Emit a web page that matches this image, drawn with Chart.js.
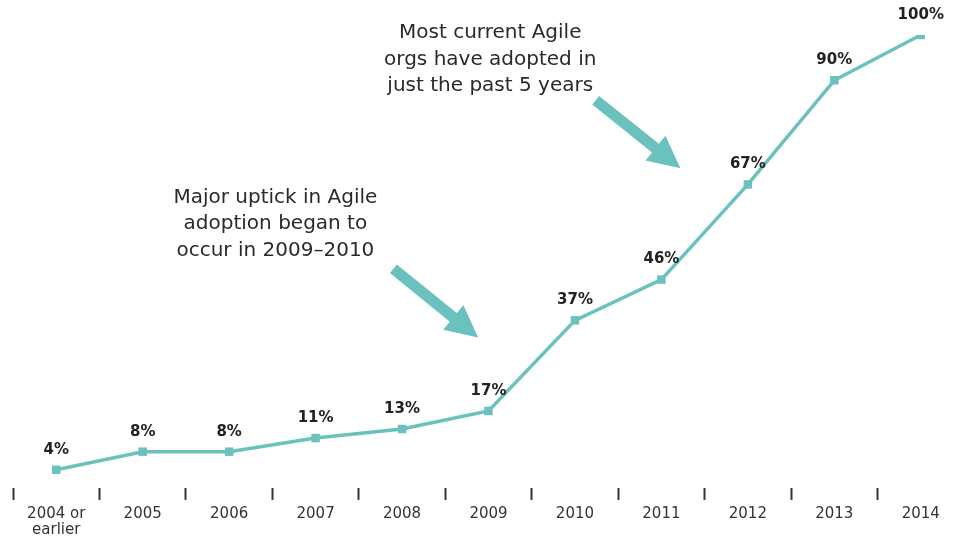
<!DOCTYPE html>
<html>
<head>
<meta charset="utf-8">
<script src="https://cdn.jsdelivr.net/npm/chart.js@4"></script>
<style>
  html, body { margin: 0; padding: 0; background: #fff; overflow: hidden; }
  #wrap { width: 970px; height: 544px; position: relative; }
</style>
</head>
<body>
<div id="wrap"><canvas id="chart"></canvas></div>
<script>
const years = [["2004 or", "earlier"], "2005", "2006", "2007", "2008", "2009", "2010", "2011", "2012", "2013", "2014"];
const adoption = [4, 8, 8, 11, 13, 17, 37, 46, 67, 90, 100];

const notes = [
  { lines: ["Major uptick in Agile", "adoption began to", "occur in 2009\u20132010"], at: [2.535, 64.1], from: [3.9, 48.4], to: [4.88, 33.2] },
  { lines: ["Most current Agile", "orgs have adopted in", "just the past 5 years"], at: [5.02, 100.4], from: [6.24, 85.6], to: [7.22, 70.6] },
];

const TEAL = "#6bc1be";
const FONT = "'DejaVu Sans', 'Open Sans', sans-serif";

const drawArrow = (ctx, x1, y1, x2, y2) => {
  const ang = Math.atan2(y2 - y1, x2 - x1);
  const len = Math.hypot(x2 - x1, y2 - y1);
  const headLen = 32, headHalf = 16, shaftHalf = 5.5;
  ctx.save();
  ctx.translate(x1, y1);
  ctx.rotate(ang);
  ctx.fillStyle = TEAL;
  ctx.beginPath();
  ctx.moveTo(0, -shaftHalf);
  ctx.lineTo(len - headLen, -shaftHalf);
  ctx.lineTo(len - headLen, -headHalf);
  ctx.lineTo(len, 0);
  ctx.lineTo(len - headLen, headHalf);
  ctx.lineTo(len - headLen, shaftHalf);
  ctx.lineTo(0, shaftHalf);
  ctx.closePath();
  ctx.fill();
  ctx.restore();
};

Chart.register({
  id: "notesAndLabels",
  afterDatasetsDraw(chart) {
    const { ctx, scales } = chart;
    const xs = scales.x, ys = scales.y;
    ctx.save();
    // value labels above points
    ctx.font = "bold 15px " + FONT;
    ctx.fillStyle = "#222";
    ctx.textAlign = "center";
    ctx.textBaseline = "middle";
    chart.getDatasetMeta(0).data.forEach((pt, i) => {
      ctx.fillText(adoption[i] + "%", pt.x, pt.y - 20);
    });
    // annotations
    ctx.font = "20px " + FONT;
    ctx.fillStyle = "#2a2a2a";
    notes.forEach((n) => {
      const cx = xs.getPixelForValue(n.at[0]);
      const top = ys.getPixelForValue(n.at[1]);
      n.lines.forEach((line, k) => ctx.fillText(line, cx, top + k * 26.5));
      drawArrow(ctx,
        xs.getPixelForValue(n.from[0]), ys.getPixelForValue(n.from[1]),
        xs.getPixelForValue(n.to[0]), ys.getPixelForValue(n.to[1]));
    });
    ctx.restore();
  },
});

new Chart(document.getElementById("chart"), {
  type: "line",
  data: {
    labels: years,
    datasets: [{
      data: adoption,
      borderColor: TEAL,
      backgroundColor: TEAL,
      borderWidth: 3.5,
      pointStyle: "rect",
      pointRadius: 6,
      pointBorderWidth: 0,
      tension: 0,
    }],
  },
  options: {
    responsive: true,
    maintainAspectRatio: false,
    animation: false,
    layout: { padding: { left: 13, right: 0, top: 35, bottom: 0 } },
    plugins: { legend: { display: false }, tooltip: { enabled: false } },
    scales: {
      x: {
        offset: true,
        border: { display: false },
        grid: {
          offset: true,
          drawOnChartArea: false,
          drawTicks: true,
          tickLength: 12,
          tickWidth: 2,
          tickColor: "#333",
        },
        ticks: {
          color: "#333",
          font: { family: FONT, size: 15, lineHeight: 1.07 },
          padding: 6,
          maxRotation: 0,
          autoSkip: false,
        },
      },
      y: {
        display: false,
        min: 0,
        max: 100,
      },
    },
  },
});
</script>
</body>
</html>
